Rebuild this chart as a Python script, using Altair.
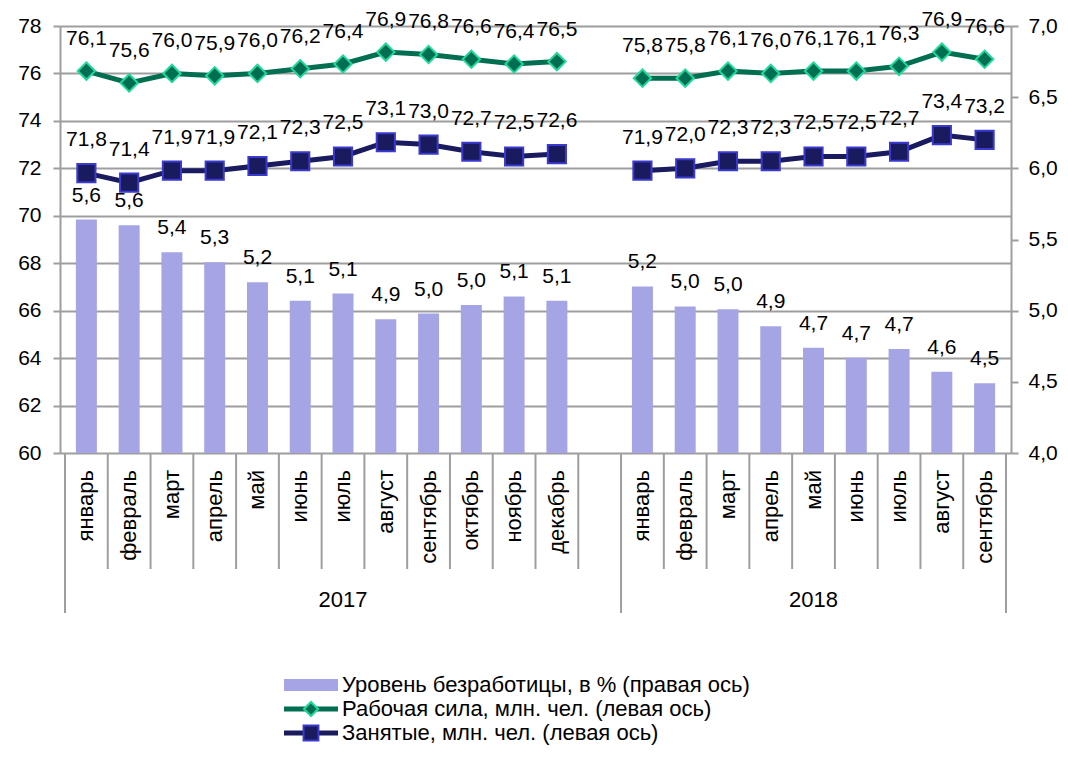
import altair as alt
import pandas as pd

# ---------------- data ----------------
months_2017 = ["январь", "февраль", "март", "апрель", "май", "июнь", "июль",
               "август", "сентябрь", "октябрь", "ноябрь", "декабрь"]
months_2018 = ["январь", "февраль", "март", "апрель", "май", "июнь", "июль",
               "август", "сентябрь"]
years = ["2017", "2018"]

unemp_2017 = [5.64, 5.60, 5.41, 5.34, 5.20, 5.07, 5.12, 4.94, 4.98, 5.04, 5.10, 5.07]
unemp_2018 = [5.17, 5.03, 5.01, 4.89, 4.74, 4.67, 4.73, 4.57, 4.49]
labor_2017 = [76.1, 75.6, 76.0, 75.9, 76.0, 76.2, 76.4, 76.9, 76.8, 76.6, 76.4, 76.5]
labor_2018 = [75.8, 75.8, 76.1, 76.0, 76.1, 76.1, 76.3, 76.9, 76.6]
empl_2017 = [71.8, 71.4, 71.9, 71.9, 72.1, 72.3, 72.5, 73.1, 73.0, 72.7, 72.5, 72.6]
empl_2018 = [71.9, 72.0, 72.3, 72.3, 72.5, 72.5, 72.7, 73.4, 73.2]

legend_labels = ["Уровень безработицы, в % (правая ось)",
                 "Рабочая сила, млн. чел. (левая ось)",
                 "Занятые, млн. чел. (левая ось)"]

# ---------------- layout / style ----------------
FONT = "Liberation Sans"
BAR = "#A5A5E6"
GREEN = "#006E50"
GREEN_EDGE = "#1ED99B"
NAVY = "#1A1A5E"
NAVY_EDGE = "#3A3AD0"
GRID = "#9E9E9E"
W, H = 951, 427

# slots: 12 months of 2017 + one empty slot, then 9 months of 2018
n17, n18 = len(months_2017), len(months_2018)
n_slots = n17 + 1 + n18
idx = list(range(n17)) + list(range(n17 + 1, n_slots))

df = pd.DataFrame({
    "idx": idx,
    "month": months_2017 + months_2018,
    "year": [years[0]] * n17 + [years[1]] * n18,
    "unemp": unemp_2017 + unemp_2018,
    "labor": labor_2017 + labor_2018,
    "empl": empl_2017 + empl_2018,
})

group_edges = [-0.5, n17 + 0.5, n_slots - 0.5]
inner_edges = [k + 0.5 for k in range(n_slots - 1) if (k + 0.5) not in group_edges]
sep_short = pd.DataFrame({"b": inner_edges})
sep_long = pd.DataFrame({"b": group_edges})
year_df = pd.DataFrame({"year": years,
                        "c": [(group_edges[0] + group_edges[1]) / 2,
                              (group_edges[1] + group_edges[2]) / 2]})
one = pd.DataFrame({"k": [0]})

xs = alt.Scale(domain=[-0.5, n_slots - 0.5], nice=False, zero=False)
x_enc = alt.X("idx:Q", scale=xs, axis=None)

ys_r = alt.Scale(domain=[4.0, 7.0], nice=False, zero=False)
ys_l = alt.Scale(domain=[60, 78], nice=False, zero=False)

ax_r = alt.Axis(orient="right", values=[4.0, 4.5, 5.0, 5.5, 6.0, 6.5, 7.0],
                grid=False, title=None, tickSize=7, labelPadding=10,
                labelExpr="replace(format(datum.value, '.1f'), '.', ',')")
ax_l = alt.Axis(orient="left", values=list(range(60, 80, 2)), grid=True,
                title=None, tickSize=7, labelPadding=12)

fmt = lambda f: f"replace(format(datum.{f}, '.1f'), '.', ',')"

base = alt.Chart(df)

bars = base.mark_bar(size=21, color=BAR).encode(
    x=x_enc,
    y=alt.Y("unemp:Q", scale=ys_r, axis=ax_r),
    y2=alt.datum(4.0),
)
bar_lbl = base.transform_calculate(lbl=fmt("unemp")).mark_text(
    dy=-24, fontSize=21, font=FONT, baseline="middle", color="black"
).encode(x=x_enc, y=alt.Y("unemp:Q", scale=ys_r, axis=ax_r), text="lbl:N")

bar_group = alt.layer(bars, bar_lbl)

yl = lambda f: alt.Y(f"{f}:Q", scale=ys_l, axis=ax_l)

labor_line = base.mark_line(color=GREEN, strokeWidth=5).encode(
    x=x_enc, y=yl("labor"), detail="year:N")
labor_pts = base.mark_point(shape="diamond", size=300, fill=GREEN, stroke=GREEN_EDGE,
                            strokeWidth=2, opacity=1, fillOpacity=1).encode(
    x=x_enc, y=yl("labor"))
labor_lbl = base.transform_calculate(lbl=fmt("labor")).mark_text(
    dy=-32, fontSize=21, font=FONT, baseline="middle", color="black"
).encode(x=x_enc, y=yl("labor"), text="lbl:N")

empl_line = base.mark_line(color=NAVY, strokeWidth=5).encode(
    x=x_enc, y=yl("empl"), detail="year:N")
empl_pts = base.mark_point(shape="square", size=330, fill=NAVY, stroke=NAVY_EDGE,
                           strokeWidth=2, opacity=1, fillOpacity=1).encode(
    x=x_enc, y=yl("empl"))
empl_lbl = base.transform_calculate(lbl=fmt("empl")).mark_text(
    dy=-33, fontSize=21, font=FONT, baseline="middle", color="black"
).encode(x=x_enc, y=yl("empl"), text="lbl:N")

line_group = alt.layer(labor_line, empl_line, labor_pts, empl_pts, labor_lbl, empl_lbl)

# category axis drawn by hand
month_txt = base.mark_text(angle=270, align="right", baseline="middle",
                           fontSize=22, font=FONT, color="black").encode(
    x=x_enc, y=alt.value(H + 17), text="month:N")
rules_short = alt.Chart(sep_short).mark_rule(color=GRID, strokeWidth=2).encode(
    x=alt.X("b:Q", scale=xs, axis=None), y=alt.value(H), y2=alt.value(H + 116))
rules_long = alt.Chart(sep_long).mark_rule(color=GRID, strokeWidth=2).encode(
    x=alt.X("b:Q", scale=xs, axis=None), y=alt.value(H), y2=alt.value(H + 160))
year_txt = alt.Chart(year_df).mark_text(baseline="middle", fontSize=22, font=FONT,
                                        color="black").encode(
    x=alt.X("c:Q", scale=xs, axis=None), y=alt.value(H + 147), text="year:N")

# legend drawn by hand
LX, LY = 224, 659
STEP = 24
leg_rect = alt.Chart(one).mark_rect(color=BAR).encode(
    x=alt.value(LX), x2=alt.value(LX + 54), y=alt.value(LY - 6), y2=alt.value(LY + 6))
leg_g_line = alt.Chart(one).mark_rule(color=GREEN, strokeWidth=5).encode(
    x=alt.value(LX), x2=alt.value(LX + 54), y=alt.value(LY + STEP))
leg_g_pt = alt.Chart(one).mark_point(shape="diamond", size=200, fill=GREEN,
                                      stroke=GREEN_EDGE, strokeWidth=2, opacity=1).encode(
    x=alt.value(LX + 27), y=alt.value(LY + STEP))
leg_n_line = alt.Chart(one).mark_rule(color=NAVY, strokeWidth=5).encode(
    x=alt.value(LX), x2=alt.value(LX + 54), y=alt.value(LY + 2 * STEP))
leg_n_pt = alt.Chart(one).mark_point(shape="square", size=220, fill=NAVY,
                                      stroke=NAVY_EDGE, strokeWidth=2, opacity=1).encode(
    x=alt.value(LX + 27), y=alt.value(LY + 2 * STEP))
leg_txt = [
    alt.Chart(one).mark_text(align="left", baseline="middle", fontSize=22, font=FONT,
                             color="black", text=legend_labels[i]).encode(
        x=alt.value(LX + 58), y=alt.value(LY + i * STEP))
    for i in range(3)
]

chart = alt.layer(
    bar_group, line_group, rules_short, rules_long, month_txt, year_txt,
    leg_rect, leg_g_line, leg_g_pt, leg_n_line, leg_n_pt, *leg_txt
).resolve_scale(y="independent").properties(
    width=W, height=H,
    autosize=alt.AutoSizeParams(type="none"),
    padding={"left": 52, "top": 18, "right": 49, "bottom": 297},
).configure_view(stroke=None).configure_axis(
    labelFont=FONT, labelFontSize=21, labelColor="black",
    domainColor=GRID, tickColor=GRID, gridColor=GRID,
    domainWidth=2, tickWidth=2, gridWidth=2,
)

chart.save("out.html", embed_options={"renderer": "svg", "actions": False})
